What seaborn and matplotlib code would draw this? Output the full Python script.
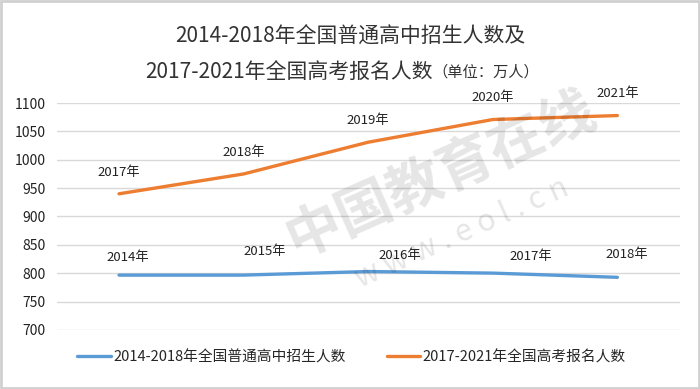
import seaborn as sns
import pandas as pd
import numpy as np
import matplotlib.pyplot as plt
from matplotlib.lines import Line2D

# data
hs_years = ['2014年', '2015年', '2016年', '2017年', '2018年']
hs_values = [796.6, 796.6, 802.9, 800.1, 792.7]
gk_years = ['2017年', '2018年', '2019年', '2020年', '2021年']
gk_values = [940, 975, 1031, 1071, 1078]
hs_name = '2014-2018年全国普通高中招生人数'
gk_name = '2017-2021年全国高考报名人数'
yticks = [700, 750, 800, 850, 900, 950, 1000, 1050, 1100]

sns.set_style('white')
plt.rcParams['font.family'] = ['Noto Sans CJK SC', 'DejaVu Sans']

blue = '#5B9BD5'
orange = '#ED7D31'

df = pd.DataFrame({
    'pos': list(range(len(hs_years))) * 2,
    'value': hs_values + gk_values,
    'series': [hs_name] * len(hs_values) + [gk_name] * len(gk_values),
})

fig = plt.figure(figsize=(7, 3.89), dpi=100)
ax = fig.add_axes([0.081, 0.152, 0.89, 0.583])

# faint watermark
fig.text(0.63, 0.55, '中国教育在线', fontsize=40, color='#000000', alpha=0.1,
         rotation=24, ha='center', va='center', fontweight='bold')
fig.text(0.66, 0.40, 'w w w . e o l . c n', fontsize=22, color='#000000', alpha=0.1,
         rotation=24, ha='center', va='center')

sns.lineplot(data=df, x='pos', y='value', hue='series',
             palette={hs_name: blue, gk_name: orange}, linewidth=2.4,
             ax=ax, legend=False)

# category labels
hs_off = [(6, 8), (15, 12), (23, 7), (27, 7), (7, 12)]
for i, (lab, v) in enumerate(zip(hs_years, hs_values)):
    ax.annotate(lab, (i, v), xytext=hs_off[i], textcoords='offset points',
                ha='center', va='bottom', fontsize=9.5, color='#222222')
for i, (lab, v) in enumerate(zip(gk_years, gk_values)):
    ax.annotate(lab, (i, v), xytext=(0, 11), textcoords='offset points',
                ha='center', va='bottom', fontsize=9.5, color='#222222')

ax.set_xlim(-0.5, 4.5)
ax.set_ylim(700, 1100)
ax.set_yticks(yticks)
ax.set_xticks([])
ax.set_xlabel('')
ax.set_ylabel('')
ax.tick_params(axis='y', labelsize=10, colors='#222222', length=0, pad=8)
ax.grid(axis='y', color='#d9d9d9', linewidth=1)
ax.set_axisbelow(True)
for s in ax.spines.values():
    s.set_visible(False)

# title
fig.text(0.5, 0.905, '2014-2018年全国普通高中招生人数及', fontsize=15,
         ha='center', va='center', color='#333333')
fig.text(0.618, 0.815, '2017-2021年全国高考报名人数', fontsize=15,
         ha='right', va='center', color='#333333')
fig.text(0.618, 0.815, '（单位：万人）', fontsize=11,
         ha='left', va='center', color='#333333')

handles = [Line2D([], [], color=blue, lw=2.4), Line2D([], [], color=orange, lw=2.4)]
fig.legend(handles, [hs_name, gk_name], loc='center', bbox_to_anchor=(0.502, 0.082),
           ncol=2, frameon=False, fontsize=10.6, handlelength=2.3, handletextpad=0.15,
           columnspacing=2.8)

# light border
fig.patches.append(plt.Rectangle((0.002, 0.003), 0.996, 0.994, transform=fig.transFigure,
                                 fill=False, edgecolor='#d0d0d0', linewidth=2))

fig.savefig('out.png', dpi=100)
